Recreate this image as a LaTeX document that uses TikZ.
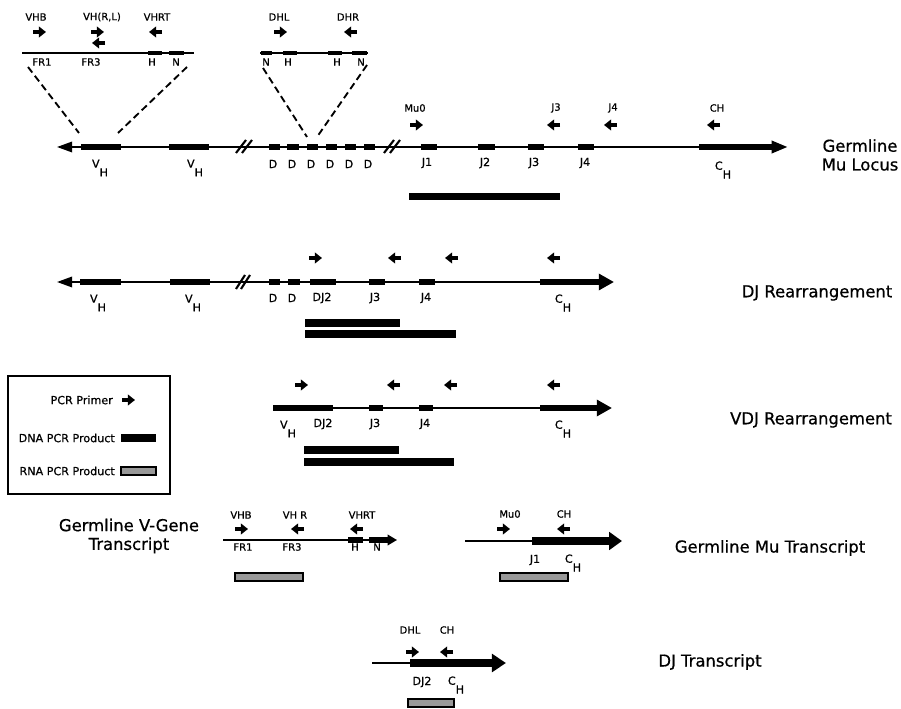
\documentclass[tikz,border=0pt]{standalone}
\usepackage{fontspec}
\setmainfont{DejaVu Sans}[FakeBold=0.7]
\usetikzlibrary{arrows.meta}
\newcommand{\lowsub}[2]{#1\raisebox{-7.5pt}{#2}}

\begin{document}
\begin{tikzpicture}[x=0.3mm, y=-0.3mm,
    dna/.style={line width=1.6pt},
    exon/.style={line width=5pt},
    chexon/.style={line width=5.5pt},
    insetexon/.style={line width=3.2pt},
    brk/.style={line width=1.8pt},
    zoomline/.style={line width=1.6pt, dash pattern=on 6pt off 3.5pt},
    primer/.style={line width=2.6pt, -{Triangle[length=6pt,width=9pt]}},
    lbl/.style={font=\fontsize{9.5}{11}\selectfont, inner sep=0pt},
    primerlbl/.style={font=\fontsize{8.5}{10}\selectfont, inner sep=0pt},
    bigtext/.style={font=\fontsize{14}{16}\selectfont, align=center, inner sep=0pt},
    rnaprod/.style={fill=black!40, draw=black, line width=1pt}]
    \useasboundingbox (0,0) rectangle (901,709);

    % germline mu locus
    \draw[dna, {Triangle[length=13pt,width=9pt]}-] (57,147) -- (699,147);
    \draw[chexon, -{Triangle[length=14pt,width=10pt]}] (699,147) -- (788,147);
    \foreach \a/\b in {81/121, 169/209, 269/280, 287/299, 307/318, 326/337, 345/356, 364/375, 421/437, 478/495, 528/544, 578/594}
        \draw[exon] (\a,147) -- (\b,147);
    \draw[brk] (236,153) -- (246,140);
    \draw[brk] (242,153) -- (252,140);
    \draw[brk] (384,153) -- (394,140);
    \draw[brk] (390,153) -- (400,140);
    \node[lbl] (vh1) at (100,168) {\lowsub{V}{H}};
    \node[lbl] (vh2) at (195,168) {\lowsub{V}{H}};
    \foreach \x [count=\i] in {273,292,311,330,349,368}
        \node[lbl] (d\i) at (\x,164) {D};
    \node[lbl] (j1) at (427,163) {J1};
    \node[lbl] (j2) at (485,163) {J2};
    \node[lbl] (j3) at (534,163) {J3};
    \node[lbl] (j4) at (585,163) {J4};
    \node[lbl] (ch) at (723,170) {\lowsub{C}{H}};
    \draw[primer] (410,125) -- (423,125);
    \draw[primer] (560,125) -- (547,125);
    \draw[primer] (617,125) -- (604,125);
    \draw[primer] (720,125) -- (707,125);
    \node[primerlbl] (mu0) at (415,108) {Mu0};
    \node[primerlbl] (pj3) at (556,108) {J3};
    \node[primerlbl] (pj4) at (613,108) {J4};
    \node[primerlbl] (pch) at (717,108) {CH};
    \fill (409,193) rectangle (560,200);
    \node[bigtext] (germ) at (860,155) {Germline\\Mu Locus};

    % V gene inset
    \draw[dna] (22,53) -- (194,53);
    \draw[insetexon] (148,53) -- (162,53);
    \draw[insetexon] (169,53) -- (184,53);
    \node[primerlbl] (fr1) at (42,62) {FR1};
    \node[primerlbl] (fr3) at (91,62) {FR3};
    \node[primerlbl] (vh) at (152,62) {H};
    \node[primerlbl] (vn) at (176,62) {N};
    \draw[primer] (33,32) -- (46,32);
    \draw[primer] (91,32) -- (104,32);
    \draw[primer] (105,43) -- (92,43);
    \draw[primer] (162,32) -- (149,32);
    \node[primerlbl] (vhb) at (36,17) {VHB};
    \node[primerlbl] (vhrl) at (102,17) {VH(R,L)};
    \node[primerlbl] (vhrt) at (157,17) {VHRT};
    \coordinate (vleft) at (28,67);
    \coordinate (vright) at (187,67);
    \coordinate (vexl) at (79,133);
    \coordinate (vexr) at (118,133);
    \draw[zoomline] (vleft) -- (vexl);
    \draw[zoomline] (vright) -- (vexr);

    % D inset
    \draw[dna] (260,53) -- (368,53);
    \foreach \a/\b in {261/272, 283/297, 328/342, 352/367}
        \draw[insetexon] (\a,53) -- (\b,53);
    \node[primerlbl] (dn1) at (266,62) {N};
    \node[primerlbl] (dh1) at (288,62) {H};
    \node[primerlbl] (dh2) at (337,62) {H};
    \node[primerlbl] (dn2) at (361,62) {N};
    \draw[primer] (274,32) -- (287,32);
    \draw[primer] (357,32) -- (344,32);
    \node[primerlbl] (dhl) at (279,17) {DHL};
    \node[primerlbl] (dhr) at (348,17) {DHR};
    \coordinate (dleft) at (263,68);
    \coordinate (dright) at (367,65);
    \coordinate (dexl) at (307,137);
    \coordinate (dexr) at (317,137);
    \draw[zoomline] (dleft) -- (dexl);
    \draw[zoomline] (dright) -- (dexr);

    % DJ rearrangement
    \draw[dna, {Triangle[length=13pt,width=9pt]}-] (57,282) -- (540,282);
    \draw[chexon, -{Triangle[length=13pt,width=13.5pt]}] (540,282) -- (614,282);
    \foreach \a/\b in {80/121, 170/210, 269/280, 288/300, 310/336, 369/385, 419/435}
        \draw[exon] (\a,282) -- (\b,282);
    \draw[brk] (236,289) -- (245,275);
    \draw[brk] (241,289) -- (250,275);
    \node[lbl] (rvh1) at (98,303) {\lowsub{V}{H}};
    \node[lbl] (rvh2) at (193,303) {\lowsub{V}{H}};
    \node[lbl] (rd1) at (273,298) {D};
    \node[lbl] (rd2) at (292,298) {D};
    \node[lbl] (rdj2) at (322,298) {DJ2};
    \node[lbl] (rj3) at (375,298) {J3};
    \node[lbl] (rj4) at (426,298) {J4};
    \node[lbl] (rch) at (563,303) {\lowsub{C}{H}};
    \draw[primer] (309,258) -- (322,258);
    \draw[primer] (401,258) -- (388,258);
    \draw[primer] (458,258) -- (445,258);
    \draw[primer] (560,258) -- (547,258);
    \fill (305,319) rectangle (400,327);
    \fill (305,330) rectangle (456,338);
    \node[bigtext] (djre) at (817,293) {DJ Rearrangement};

    % VDJ rearrangement
    \draw[dna] (273,408) -- (540,408);
    \draw[chexon, -{Triangle[length=13pt,width=13.5pt]}] (540,408) -- (612,408);
    \foreach \a/\b in {273/333, 369/383, 419/433}
        \draw[exon] (\a,408) -- (\b,408);
    \node[lbl] (vvh) at (288,429) {\lowsub{V}{H}};
    \node[lbl] (vdj2) at (323,424) {DJ2};
    \node[lbl] (vj3) at (375,424) {J3};
    \node[lbl] (vj4) at (425,424) {J4};
    \node[lbl] (vch) at (563,429) {\lowsub{C}{H}};
    \draw[primer] (295,385) -- (308,385);
    \draw[primer] (400,385) -- (387,385);
    \draw[primer] (457,385) -- (444,385);
    \draw[primer] (560,385) -- (547,385);
    \fill (304,446) rectangle (399,454);
    \fill (304,458) rectangle (454,466);
    \node[bigtext] (vdjre) at (811,420) {VDJ Rearrangement};

    % legend
    \draw[line width=1.3pt] (8,376) rectangle (170,494);
    \node[lbl, anchor=east] (lgprimer) at (113,400) {PCR Primer};
    \draw[primer] (122,400) -- (135,400);
    \node[lbl, anchor=east] (lgdna) at (115,438) {DNA PCR Product};
    \fill (121,434) rectangle (156,442);
    \node[lbl, anchor=east] (lgrna) at (115,471) {RNA PCR Product};
    \draw[rnaprod] (121,467) rectangle (156,475);

    % germline V-gene transcript
    \draw[dna, -{Triangle[length=8pt,width=9pt]}] (223,540) -- (397,540);
    \draw[exon] (348,540) -- (363,540);
    \draw[exon] (369,540) -- (388,540);
    \node[primerlbl] (tfr1) at (243,547) {FR1};
    \node[primerlbl] (tfr3) at (292,547) {FR3};
    \node[primerlbl] (th) at (355,547) {H};
    \node[primerlbl] (tn) at (377,547) {N};
    \draw[primer] (235,529) -- (248,529);
    \draw[primer] (304,529) -- (291,529);
    \draw[primer] (363,529) -- (350,529);
    \node[primerlbl] (tvhb) at (241,515) {VHB};
    \node[primerlbl] (tvhr) at (295,515) {VH R};
    \node[primerlbl] (tvhrt) at (362,515) {VHRT};
    \draw[rnaprod] (235,573) rectangle (303,581);
    \node[bigtext] (vgene) at (129,536) {Germline V-Gene\\Transcript};

    % germline mu transcript
    \draw[dna] (465,541) -- (532,541);
    \draw[line width=6pt, -{Triangle[length=11pt,width=15pt]}] (532,541) -- (622,541);
    \node[lbl] (mj1) at (535,560) {J1};
    \node[lbl] (mch) at (573,563) {\lowsub{C}{H}};
    \draw[primer] (497,529) -- (510,529);
    \draw[primer] (570,529) -- (557,529);
    \node[primerlbl] (mmu0) at (510,514) {Mu0};
    \node[primerlbl] (mpch) at (564,514) {CH};
    \draw[rnaprod] (500,573) rectangle (568,581);
    \node[bigtext] (mutr) at (770,548) {Germline Mu Transcript};

    % DJ transcript
    \draw[dna] (372,663) -- (410,663);
    \draw[line width=6pt, -{Triangle[length=12pt,width=15pt]}] (410,663) -- (506,663);
    \node[lbl] (tdj2) at (422,682) {DJ2};
    \node[lbl] (tch) at (456,685) {\lowsub{C}{H}};
    \draw[primer] (406,652) -- (419,652);
    \draw[primer] (453,652) -- (440,652);
    \node[primerlbl] (tdhl) at (410,630) {DHL};
    \node[primerlbl] (tpch) at (447,630) {CH};
    \draw[rnaprod] (408,699) rectangle (454,707);
    \node[bigtext] (djtr) at (710,662) {DJ Transcript};
\end{tikzpicture}
\end{document}
